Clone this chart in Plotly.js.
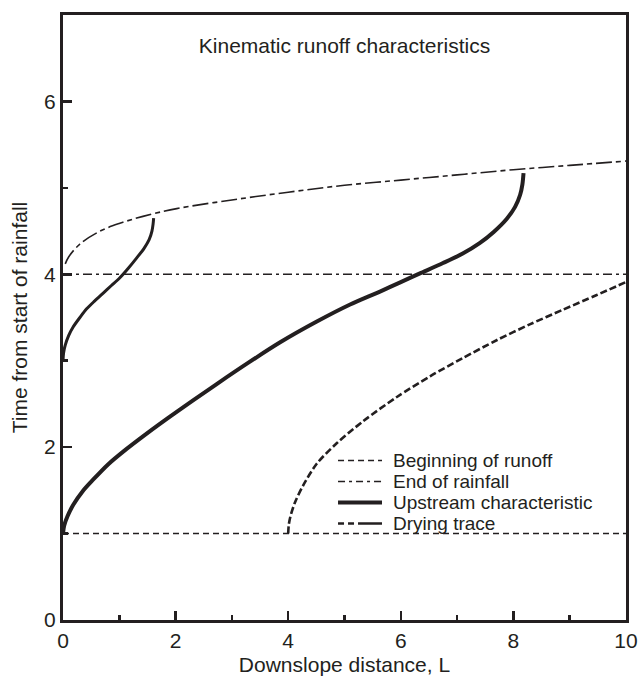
<!DOCTYPE html>
<html>
<head>
<meta charset="utf-8">
<script src="https://cdn.plot.ly/plotly-3.0.1.min.js"></script>
<style>html,body{margin:0;padding:0;background:#fff;}#chart{width:638px;height:682px;}</style>
</head>
<body>
<div id="chart"></div>
<script>
// Beginning of runoff (horizontal)
const runoffX = [0, 10];
const runoffY = [1, 1];
// End of rainfall (horizontal)
const rainEndX = [0, 10];
const rainEndY = [4, 4];
// Upper envelope
const envX = [0.04, 0.1, 0.3, 0.66, 1.01, 1.42, 2.02, 3, 4, 5, 6, 7, 8, 9, 10];
const envY = [4.12, 4.2, 4.35, 4.5, 4.59, 4.67, 4.76, 4.86, 4.95, 5.03, 5.09, 5.15, 5.21, 5.26, 5.31];
// Upstream characteristic from t = 1
const up1X = [0, 0.02, 0.08, 0.18, 0.35, 0.53, 0.8, 1.13, 1.45, 1.72, 2.0, 2.31, 2.73, 3.3, 3.85, 4.5, 5.1, 5.63, 6.0, 6.34, 6.75, 7.1, 7.4, 7.65, 7.88, 8.03, 8.12, 8.16, 8.18];
const up1Y = [1.0, 1.09, 1.2, 1.33, 1.49, 1.62, 1.80, 1.98, 2.14, 2.27, 2.40, 2.54, 2.73, 2.98, 3.21, 3.45, 3.65, 3.80, 3.91, 4.01, 4.13, 4.24, 4.36, 4.49, 4.64, 4.78, 4.92, 5.04, 5.17];
// Upstream characteristic from t = 3
const up2X = [0, 0.01, 0.04, 0.1, 0.18, 0.3, 0.42, 0.56, 0.71, 0.86, 1.01, 1.16, 1.31, 1.44, 1.53, 1.58, 1.6, 1.61];
const up2Y = [3.0, 3.09, 3.18, 3.29, 3.39, 3.50, 3.60, 3.69, 3.78, 3.87, 3.96, 4.07, 4.19, 4.30, 4.40, 4.50, 4.58, 4.65];
// Drying trace
const dryX = [4.0, 4.01, 4.04, 4.12, 4.26, 4.51, 4.87, 5.33, 5.93, 6.52, 7.10, 7.71, 8.29, 8.88, 9.48, 10];
const dryY = [1.0, 1.1, 1.2, 1.36, 1.55, 1.81, 2.05, 2.30, 2.58, 2.82, 3.03, 3.24, 3.42, 3.59, 3.76, 3.91];

const legendLabels = ["Beginning of runoff", "End of rainfall", "Upstream characteristic", "Drying trace"];
const titleText = "Kinematic runoff characteristics";
const xTitle = "Downslope distance, L";
const yTitle = "Time from start of rainfall";

const ink = "#231f20";
const font = "Liberation Sans, Arial, Helvetica, sans-serif";

const traces = [
  {x: runoffX, y: runoffY, mode: "lines", name: legendLabels[0], line: {color: ink, width: 1.4, dash: "6px,4px"}},
  {x: rainEndX, y: rainEndY, mode: "lines", name: legendLabels[1], line: {color: ink, width: 1.4, dash: "9px,4px,3px,4px"}},
  {x: envX, y: envY, mode: "lines", name: "envelope", line: {color: ink, width: 1.6, dash: "16px,4px,5px,4px", shape: "spline"}},
  {x: up1X, y: up1Y, mode: "lines", name: legendLabels[2], line: {color: ink, width: 4, shape: "spline", smoothing: 0.8}},
  {x: up2X, y: up2Y, mode: "lines", name: "upstream 2", line: {color: ink, width: 3, shape: "spline", smoothing: 0.8}},
  {x: dryX, y: dryY, mode: "lines", name: legendLabels[3], line: {color: ink, width: 2.6, dash: "7px,3px", shape: "spline", smoothing: 0.8}}
];

// manual legend
const rowsY = [0.2636, 0.2289, 0.1942, 0.1595];
const sampleDash = ["6px,4px", "7px,4px,3px,4px", "solid", "6px,4px,6px,4px,30px"];
const sampleWidth = [1.4, 1.4, 4, 2.6];
const shapes = [];
const annotations = [];
for (let i = 0; i < legendLabels.length; i++) {
  shapes.push({type: "line", xref: "paper", yref: "paper", x0: 0.4885, x1: 0.5666, y0: rowsY[i], y1: rowsY[i],
    line: {color: ink, width: sampleWidth[i], dash: sampleDash[i]}});
  annotations.push({xref: "paper", yref: "paper", x: 0.5844, y: rowsY[i], xanchor: "left", yanchor: "middle",
    text: legendLabels[i], showarrow: false, borderpad: 0, font: {family: font, size: 19, color: ink}});
}

const axisCommon = {
  showline: true, mirror: true, linewidth: 3, linecolor: ink,
  ticks: "inside", ticklen: 9, tickwidth: 2.5, tickcolor: ink,
  showgrid: false, zeroline: false,
  tickfont: {family: font, size: 21, color: ink},
  minor: {dtick: 1, ticks: "inside", ticklen: 5, tickwidth: 2.5, tickcolor: ink, showgrid: false}
};

const layout = {
  width: 638, height: 682,
  margin: {l: 63, r: 12, t: 15, b: 62},
  paper_bgcolor: "#fff", plot_bgcolor: "#fff",
  showlegend: false,
  title: {text: titleText, x: 0.5, xref: "paper", xanchor: "center", y: 0.95, yref: "paper", yanchor: "middle",
    font: {family: font, size: 21, color: ink}},
  xaxis: Object.assign({}, axisCommon, {range: [0, 10], dtick: 2, tick0: 0,
    title: {text: xTitle, font: {family: font, size: 21, color: ink}, standoff: 7}}),
  yaxis: Object.assign({}, axisCommon, {range: [0, 7], dtick: 2, tick0: 0,
    title: {text: yTitle, font: {family: font, size: 21, color: ink}, standoff: 11}}),
  shapes: shapes,
  annotations: annotations
};

Plotly.newPlot("chart", traces, layout, {displayModeBar: false, staticPlot: true});
</script>
</body>
</html>
